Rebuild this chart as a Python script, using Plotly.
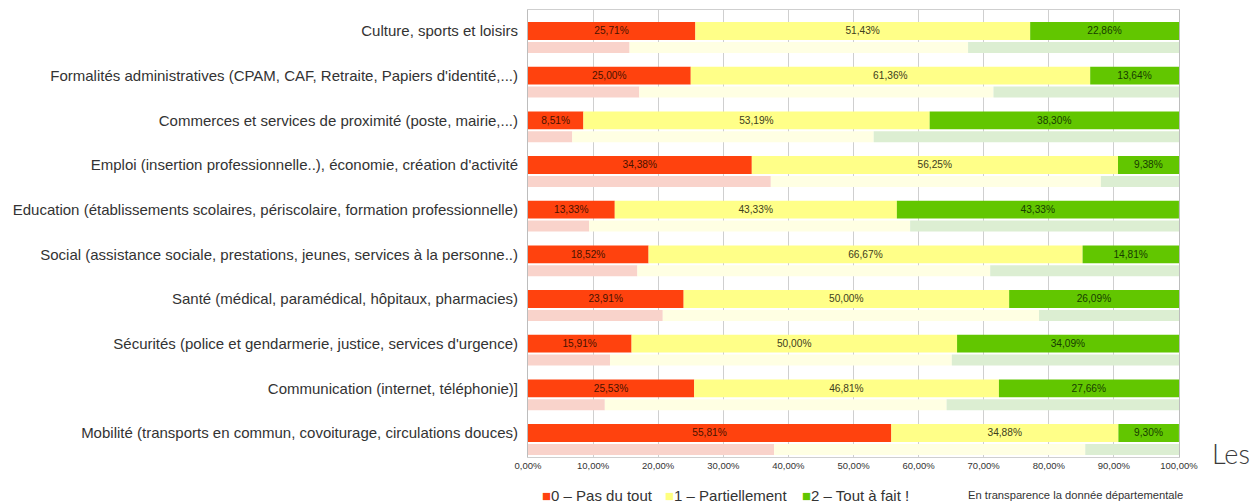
import plotly.graph_objects as go

categories = [
    "Culture, sports et loisirs",
    "Formalités administratives (CPAM, CAF, Retraite, Papiers d'identité,...)",
    "Commerces et services de proximité (poste, mairie,...)",
    "Emploi (insertion professionnelle..), économie, création d'activité",
    "Education (établissements scolaires, périscolaire, formation professionnelle)",
    "Social (assistance sociale, prestations, jeunes, services à la personne..)",
    "Santé (médical, paramédical, hôpitaux, pharmacies)",
    "Sécurités (police et gendarmerie, justice, services d'urgence)",
    "Communication (internet, téléphonie)]",
    "Mobilité (transports en commun, covoiturage, circulations douces)",
]

# Local survey values (%)
pas_du_tout = [25.71, 25.00, 8.51, 34.38, 13.33, 18.52, 23.91, 15.91, 25.53, 55.81]
partiellement = [51.43, 61.36, 53.19, 56.25, 43.33, 66.67, 50.00, 50.00, 46.81, 34.88]
tout_a_fait = [22.86, 13.64, 38.30, 9.38, 43.33, 14.81, 26.09, 34.09, 27.66, 9.30]

# Departmental values (%), shown in transparency (estimated)
dep_pas_du_tout = [15.6, 17.1, 6.8, 37.3, 9.4, 16.8, 20.7, 12.6, 11.8, 37.8]
dep_partiellement = [52.0, 54.4, 46.3, 50.7, 49.3, 54.2, 57.8, 52.5, 52.5, 47.8]
dep_tout_a_fait = [32.4, 28.5, 46.9, 12.0, 41.3, 29.0, 21.5, 34.9, 35.7, 14.4]

x_tick_values = [0, 10, 20, 30, 40, 50, 60, 70, 80, 90, 100]
x_tick_labels = ["0,00%", "10,00%", "20,00%", "30,00%", "40,00%", "50,00%",
                 "60,00%", "70,00%", "80,00%", "90,00%", "100,00%"]

series_names = ["0 – Pas du tout", "1 – Partiellement", "2 – Tout à fait !"]
main_colors = ["#FF420E", "#FFFF88", "#62C600"]
faded_colors = ["#F9D3CB", "#FFFFE3", "#DCEED2"]
text_colors = ["#4a1200", "#40401c", "#173d00"]
legend_square_colors = ["#FF420E", "#FFFF80", "#62C600"]

FONT = "Liberation Sans, Arial, sans-serif"
pos = list(range(len(categories)))


def fmt(v):
    return f"{v:.2f}".replace(".", ",") + "%"


fig = go.Figure()

main_series = [pas_du_tout, partiellement, tout_a_fait]
dep_series = [dep_pas_du_tout, dep_partiellement, dep_tout_a_fait]

# departmental (faded) bars
base = [0.0] * len(categories)
for i, vals in enumerate(dep_series):
    fig.add_trace(go.Bar(
        y=pos, x=vals, base=base, orientation="h",
        width=0.245, offset=0.245,
        marker=dict(color=faded_colors[i], line=dict(width=0)),
        showlegend=False, hoverinfo="skip",
    ))
    base = [b + v for b, v in zip(base, vals)]

# main bars
base = [0.0] * len(categories)
for i, vals in enumerate(main_series):
    fig.add_trace(go.Bar(
        y=pos, x=vals, base=base, orientation="h",
        width=0.4, offset=-0.2,
        name=series_names[i],
        marker=dict(color=main_colors[i], line=dict(width=0)),
        text=[fmt(v) for v in vals],
        textposition="inside", insidetextanchor="middle", textangle=0,
        textfont=dict(family=FONT, size=12, color=text_colors[i]),
        showlegend=False,
    ))
    base = [b + v for b, v in zip(base, vals)]

fig.update_layout(
    barmode="overlay",
    width=1258, height=503,
    margin=dict(l=528, r=79, t=10, b=46),
    paper_bgcolor="white", plot_bgcolor="white",
    font=dict(family=FONT, color="#333333"),
    showlegend=False,
)

fig.update_xaxes(
    range=[0, 100], tickvals=x_tick_values, ticktext=x_tick_labels,
    tickfont=dict(family=FONT, size=9.5, color="#333333"),
    showgrid=True, gridcolor="#cfcfcf", gridwidth=1,
    showline=True, linecolor="#cfcfcf", mirror=True,
    zeroline=False, ticks="", fixedrange=True,
)
fig.update_yaxes(
    range=[9.537, -0.47], tickvals=pos, ticktext=categories,
    tickfont=dict(family=FONT, size=15, color="#333333"),
    showgrid=False, zeroline=False, ticks="",
    showline=True, linecolor="#bdbdbd", mirror=True,
    ticklabelstandoff=6,
)

# legend drawn as text annotations
plot_h = 503 - 10 - 46
plot_w = 1258 - 528 - 79


def px_x(px):
    return (px - 528) / plot_w


def px_y(py):
    return (503 - 46 - py) / plot_h


legend_x_px = [540, 663, 800]
for i, name in enumerate(series_names):
    fig.add_annotation(
        xref="paper", yref="paper", x=px_x(legend_x_px[i]), y=px_y(495),
        xanchor="left", yanchor="middle", showarrow=False,
        text=f"<span style='color:{legend_square_colors[i]}'>■</span>{name}",
        font=dict(family=FONT, size=15, color="#333333"),
    )

fig.add_annotation(
    xref="paper", yref="paper", x=px_x(966), y=px_y(495),
    xanchor="left", yanchor="middle", showarrow=False,
    text="En transparence la donnée départementale",
    font=dict(family=FONT, size=11.2, color="#333333"),
)

fig.add_annotation(
    xref="paper", yref="paper", x=px_x(1210), y=px_y(453),
    xanchor="left", yanchor="middle", showarrow=False,
    text="Les",
    font=dict(family="Lato, sans-serif", size=27, color="#3a3a3a", weight=300),
)

fig.write_html("out.html")
